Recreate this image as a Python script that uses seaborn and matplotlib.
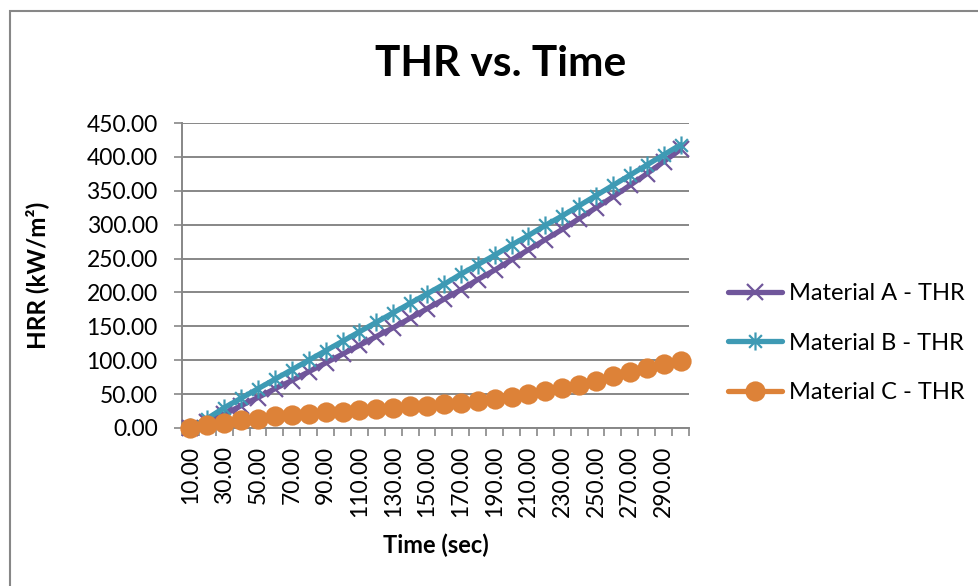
import numpy as np
import pandas as pd
import matplotlib
matplotlib.use("Agg")
import matplotlib.pyplot as plt
import seaborn as sns
from matplotlib.path import Path
from matplotlib.patches import Rectangle

# ---------------- data ----------------
times = [10, 20, 30, 40, 50, 60, 70, 80, 90, 100,
         110, 120, 130, 140, 150, 160, 170, 180, 190, 200,
         210, 220, 230, 240, 250, 260, 270, 280, 290, 300]
material_a = [0, 9, 20, 33, 45, 58, 70, 83, 96, 109,
              122, 135, 148, 162, 176, 190, 204, 219, 233, 248,
              263, 278, 293, 309, 325, 341, 358, 375, 393, 411]
material_b = [1, 14, 30, 44, 58, 72, 86, 100, 114, 128,
              142, 156, 170, 184, 198, 212, 227, 241, 255, 270,
              284, 299, 313, 328, 343, 358, 373, 388, 403, 418]
material_c = [0.5, 4, 8, 12, 14, 17.5, 19, 21, 23, 24,
              26.5, 28, 30, 32, 33, 35, 36.5, 40, 43, 46,
              50, 54.5, 58.5, 63.5, 70, 76, 82, 89, 94, 99]
series_names = ["Material A - THR", "Material B - THR", "Material C - THR"]
y_ticks = [0, 50, 100, 150, 200, 250, 300, 350, 400, 450]

# ---------------- style ----------------
sns.set_theme(style="white")
plt.rcParams['font.family'] = ['Lato', 'DejaVu Sans']

GRAY = '#878787'
colors = ['#70569B', '#3E9AB4', '#DD8238']

# asterisk marker (vertical bar + X)
d = 0.7071
star = Path([(0, -1), (0, 1), (-d, -d), (d, d), (-d, d), (d, -d)],
            [Path.MOVETO, Path.LINETO, Path.MOVETO, Path.LINETO, Path.MOVETO, Path.LINETO])
markers = ['x', star, 'o']
msizes = [12, 13, 13]

fig = plt.figure(figsize=(9.79, 5.86), dpi=100)
W, H = 979, 586
ax = fig.add_axes([182 / W, 1 - 428 / H, 507 / W, 305 / H])

pos = np.arange(len(times))
df = pd.DataFrame({
    "pos": np.tile(pos, 3),
    "value": material_a + material_b + material_c,
    "series": np.repeat(series_names, len(times)),
})

for i, name in enumerate(series_names):
    sub = df[df["series"] == name]
    sns.lineplot(data=sub, x="pos", y="value", ax=ax, label=name,
                 color=colors[i], linewidth=3.8, marker=markers[i],
                 markersize=msizes[i], markeredgecolor=colors[i],
                 markerfacecolor=colors[i], markeredgewidth=1.6,
                 clip_on=False, zorder=3 + i)

# axes
ax.set_xlim(-0.5, len(times) - 0.5)
ax.set_ylim(0, 450)
ax.set_yticks(y_ticks)
ax.set_yticklabels([f"{v:.2f}" for v in y_ticks])
ax.set_xticks(pos[::2])
ax.set_xticklabels([f"{t:.2f}" for t in times[::2]], rotation=90, va='top')
ax.set_xticks(np.arange(-0.5, len(times), 1), minor=True)

ax.tick_params(axis='x', which='major', length=0, pad=13, labelsize=16.5, labelcolor='black')
ax.tick_params(axis='x', which='minor', length=6, width=1.2, color=GRAY, direction='out', bottom=True)
ax.tick_params(axis='y', which='major', length=5.5, width=1.2, color=GRAY, direction='out',
               pad=12, labelsize=16.5, labelcolor='black', left=True)

ax.yaxis.grid(True, color=GRAY, linewidth=1.4)
ax.xaxis.grid(False)
ax.set_axisbelow(True)
for s in ['top', 'right']:
    ax.spines[s].set_visible(False)
for s in ['left', 'bottom']:
    ax.spines[s].set_color(GRAY)
    ax.spines[s].set_linewidth(1.4)

ax.set_xlabel("Time (sec)", fontsize=17, fontweight='bold', color='black')
ax.xaxis.set_label_coords(0.5, -(545 - 428) / 305, transform=ax.transAxes)
ax.xaxis.label.set_va('center')
ax.set_ylabel("HRR (kW/m²)", fontsize=17.5, fontweight='bold', color='black')
ax.yaxis.set_label_coords(-(182 - 37) / 507, 0.5)
ax.yaxis.label.set_va('center')

fig.text(501 / W, 1 - 64 / H, "THR vs. Time", ha='center', va='center',
         fontsize=30.5, fontweight='bold', color='black')

leg = ax.legend(loc='center left', bbox_to_anchor=(728 / W, 1 - 343 / H),
                bbox_transform=fig.transFigure, frameon=False, fontsize=17,
                handlelength=2.3, handletextpad=0.3, labelspacing=1.2,
                borderpad=0, borderaxespad=0)
for t in leg.get_texts():
    t.set_color('black')

# outer chart border
fig.patches.append(Rectangle((10 / W, -0.05), 1.2, 1 - 11 / H + 0.05,
                             transform=fig.transFigure, fill=False,
                             edgecolor=GRAY, linewidth=1.5))

fig.savefig("out.png", dpi=100)
